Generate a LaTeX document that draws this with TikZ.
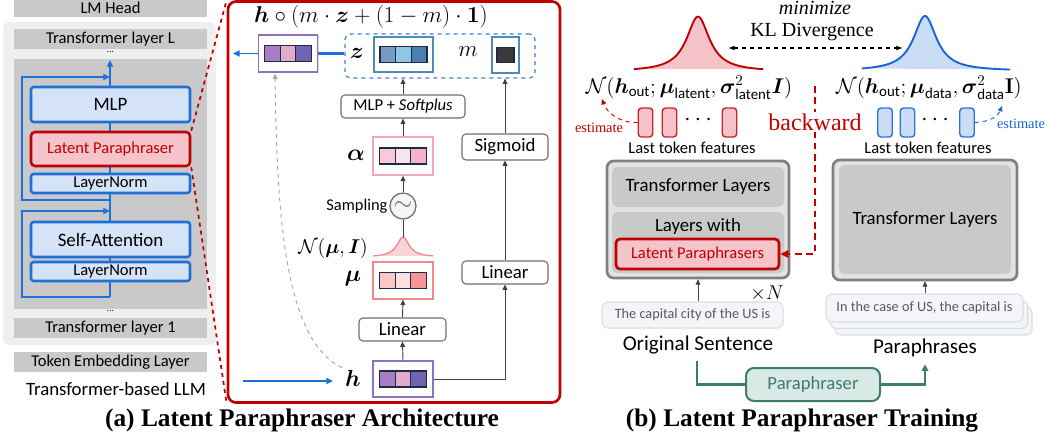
\RequirePackage{fix-cm}
\documentclass[tikz,border=0pt]{standalone}
\usepackage{amsmath}
\usepackage[no-math]{fontspec}
\setmainfont{Liberation Serif}
\newfontfamily\calib{Carlito}
\usetikzlibrary{arrows.meta,shadows,calc}
\newcommand\fs[1]{\fontsize{#1}{#1}\selectfont}
\definecolor{barg}{HTML}{C9C9C9}
\definecolor{outerbg}{HTML}{EFEFEF}
\definecolor{tblue}{HTML}{1F6FD8}
\definecolor{tbluef}{HTML}{D4E3F7}
\definecolor{tred}{HTML}{C00000}
\definecolor{tpink}{HTML}{F5C3CA}
\definecolor{midgray}{HTML}{6E6E6E}
\definecolor{dashblue}{HTML}{4A80D0}
\definecolor{zborder}{HTML}{4A8DB5}
\definecolor{navy}{HTML}{1F2A44}
\definecolor{hcA}{HTML}{A87EC2}
\definecolor{hcB}{HTML}{E2AACB}
\definecolor{hcC}{HTML}{7162B3}
\definecolor{hbord}{HTML}{8A72C4}
\definecolor{zcA}{HTML}{749CC6}
\definecolor{zcB}{HTML}{8EC6E6}
\definecolor{zcC}{HTML}{4A80B0}
\definecolor{apink}{HTML}{F0A8C0}
\definecolor{acA}{HTML}{F9C9DA}
\definecolor{acB}{HTML}{F9E3EC}
\definecolor{acC}{HTML}{F2B3CB}
\definecolor{mpink}{HTML}{F08A8A}
\definecolor{mcA}{HTML}{F9C8C8}
\definecolor{mcB}{HTML}{FCE0E0}
\definecolor{mcC}{HTML}{F79494}
\definecolor{darkc}{HTML}{3A3A3A}
\definecolor{gpinkf}{HTML}{FBD3D7}
\definecolor{gpinkl}{HTML}{F08890}
\definecolor{rgf}{HTML}{F5C2CA}
\definecolor{bgf}{HTML}{CADDF5}
\definecolor{bgl}{HTML}{1565D8}
\definecolor{tfout}{HTML}{E3E3E3}
\definecolor{tfbord}{HTML}{808080}
\definecolor{sentf}{HTML}{F3F5F8}
\definecolor{sentd}{HTML}{D9DDE3}
\definecolor{grn}{HTML}{3E7C6E}
\definecolor{grnf}{HTML}{D9E9E5}
\newcommand\vecbx[7]{%
  \node[vbx,draw=#3,sz=#4] (#1) at #2 {};
  \node[cell,fill=#5] (#1a) at ($(#1)+(-15.7,0)$) {};
  \node[cell,fill=#6] (#1b) at (#1) {};
  \node[cell,fill=#7] (#1c) at ($(#1)+(15.7,0)$) {};
}
\begin{document}
\begin{tikzpicture}[x=0.75pt,y=-0.75pt,font=\calib,
  sz/.style 2 args={minimum width={#1*0.75pt},minimum height={#2*0.75pt},inner sep=0pt},
  bar/.style={fill=barg,font=\calib\fs{12.4}},
  lbox/.style={draw=tblue,fill=tbluef,line width=1.9pt,rounded corners=2pt},
  lpbox/.style={draw=tred,fill=tpink,line width=1.9pt,rounded corners=3pt,text=tred},
  wbox/.style={draw=midgray,fill=white,line width=0.8pt,rounded corners=3pt,font=\calib\fs{14.1}},
  vbx/.style={fill=white,line width=1pt,drop shadow={shadow xshift=1pt,shadow yshift=-1pt,opacity=.3}},
  cell/.style={sz={15.7}{16},draw=navy,line width=0.9pt},
  ar/.style={draw=black!75,line width=0.7pt,-{Triangle[length=4pt,width=3.6pt]}},
  ln/.style={draw=black!75,line width=0.7pt},
  bl/.style={draw=tblue,line width=1.4pt},
  blar/.style={bl,-{Triangle[length=5pt,width=4.5pt]}},
  feat/.style={sz={14.5}{29},rounded corners=2.5pt,line width=1.1pt},
  tfo/.style={fill=tfout,draw=tfbord,line width=2pt,rounded corners=5pt},
  tfi/.style={fill=barg,rounded corners=4pt},
  sent/.style={fill=sentf,draw=sentd,line width=0.8pt,rounded corners=4pt,text=black!65,font=\calib\fs{10.7}},
]
\useasboundingbox (0,0) rectangle (1050,440);
% ---------------- left panel
\fill[outerbg,rounded corners=5pt] (3,22) rectangle (216,345);
\node[bar,sz={193}{16.5}] (lmhead) at (110.5,8.25) {LM Head};
\node[bar,sz={193}{19.5}] (tlL) at (110.5,38.75) {Transformer layer L};
\node[font=\calib\fs{7},inner sep=0pt] (dotsA) at (110.5,52) {...};
\fill[barg] (14,59) rectangle (207,309);
\node[font=\calib\fs{7},inner sep=0pt] (dotsB) at (110.5,311) {...};
\node[bar,sz={193}{20}] (tl1) at (110.5,328) {Transformer layer 1};
\node[bar,sz={193}{19.5}] (emb) at (110.5,361.75) {Token Embedding Layer};
\node[font=\calib\fs{14.1}] (llm) at (116,389) {Transformer-based LLM};
\coordinate (mainbot) at (110,297);
\coordinate (maintop) at (110,60);
\draw[blar] (mainbot) -- (maintop);
\coordinate (ra1) at (110,200); \coordinate (ra2) at (22,200);
\coordinate (ra3) at (22,77); \coordinate (ra4) at (110,77);
\draw[blar] (ra1) -- (ra2) -- (ra3) -- (ra4);
\coordinate (rb1) at (110,297); \coordinate (rb2) at (22,297);
\coordinate (rb3) at (22,211); \coordinate (rb4) at (110,211);
\draw[blar] (rb1) -- (rb2) -- (rb3) -- (rb4);
\node[lbox,sz={159}{35},font=\calib\fs{14.2}] (mlp) at (110.5,104.5) {MLP};
\node[lpbox,sz={159}{34},font=\calib\fs{12.4}] (lp) at (110.5,149) {Latent Paraphraser};
\node[lbox,sz={159}{19},font=\calib\fs{12.4}] (ln1) at (110.5,183.5) {LayerNorm};
\node[lbox,sz={159}{35},font=\calib\fs{14.2}] (sa) at (110.5,239.5) {Self-Attention};
\node[lbox,sz={159}{19},font=\calib\fs{12.4}] (ln2) at (110.5,271.5) {LayerNorm};
% ---------------- middle panel
\node[draw=tred,line width=2pt,rounded corners=6pt,sz={332}{401}] (arch) at (394,202) {};
\draw[tred,dashed,line width=1.3pt] (lp.north east) -- (arch.north west);
\draw[tred,dashed,line width=1.3pt] (lp.south east) -- (arch.south west);
\node[font=\fs{17.2},inner sep=0pt] (form) at (371,17) {$\boldsymbol{h}\circ(m\cdot\boldsymbol{z}+(1-m)\cdot\mathbf{1})$};
\vecbx{hout}{(288,53.5)}{hbord}{{59}{37}}{hcA}{hcB}{hcC}
\node[draw=dashblue,dashed,line width=0.9pt,rounded corners=4pt,sz={190}{44}] (zm) at (440,56) {};
\node[font=\fs{17},inner sep=0pt] (zlab) at (357,53) {$\boldsymbol{z}$};
\vecbx{zbox}{(403.5,54.5)}{zborder}{{59}{35}}{zcA}{zcB}{zcC}
\node[font=\fs{17},inner sep=0pt] (mlab) at (468,52) {$m$};
\node[vbx,draw=zborder,sz={27}{36}] (mbox) at (505.5,55) {};
\node[sz={17}{15},fill=darkc,draw=navy,line width=0.9pt] (mcell) at (mbox) {};
\node[wbox,sz={124}{23},font=\calib\fs{12.5}] (mlpsp) at (403,106.5) {MLP + \textit{Softplus}};
\vecbx{alpha}{(403,156)}{apink}{{60}{38}}{acA}{acB}{acC}
\node[font=\fs{17.5},inner sep=0pt] (alab) at (356,155) {$\boldsymbol{\alpha}$};
\node[wbox,sz={86}{26}] (sig) at (505,147) {Sigmoid};
\node[circle,draw=black!55,fill=black!4,line width=1pt,minimum size=19.5pt,inner sep=0pt,text=black!60,font=\fs{18}] (samp) at (403,206) {$\sim$};
\node[anchor=east,font=\calib\fs{12.3},inner sep=1pt] (samplab) at (389,206) {Sampling};
\fill[gpinkf] plot[domain=-30:30,samples=80] ({403+\x},{256-20/(1+(\x/7.5)^2)+1.1}) -- cycle;
\draw[gpinkl,line width=1pt] plot[domain=-30:30,samples=80] ({403+\x},{256-20/(1+(\x/7.5)^2)+1.1});
\coordinate (gpeak) at (403,237);
\node[font=\fs{15},inner sep=0pt] (nlab) at (333,248) {$\mathcal{N}(\boldsymbol{\mu},\boldsymbol{I})$};
\vecbx{mu}{(403,280.5)}{mpink}{{60}{37}}{mcA}{mcB}{mcC}
\node[font=\fs{17.5},inner sep=0pt] (mulab) at (353,279) {$\boldsymbol{\mu}$};
\node[wbox,sz={87}{23}] (linm) at (402.5,329.5) {Linear};
\vecbx{hbox}{(403,379)}{hbord}{{60}{36}}{hcA}{hcB}{hcC}
\node[font=\fs{17.5},inner sep=0pt] (hlab) at (353,378) {$\boldsymbol{h}$};
\node[wbox,sz={86}{23}] (linr) at (505,272.5) {Linear};
\coordinate (hin) at (243,381);
\coordinate (hinend) at (333,381);
\draw[blar] (hin) -- (hinend);
\coordinate (outarr) at (233,53.5);
\draw[blar] (hout.west) -- (outarr);
\draw[bl,line width=2pt] (hout.east) -- (hout.east -| zm.west);
\draw[ar] (hbox.north) -- (linm.south);
\draw[ar] (linm.north) -- (mu.south);
\draw[ln] (gpeak) -- (samp.south);
\draw[ar] (samp.north) -- (alpha.south);
\draw[ar] (alpha.north) -- (mlpsp.south);
\draw[ar] (mlpsp.north) -- (mlpsp.north |- zm.south);
\draw[ar] (hbox.east) -| (linr.south);
\draw[ar] (linr.north) -- (sig.south);
\draw[ar] (sig.north) -- (sig.north |- zm.south);
\draw[black!35,dashed,line width=0.7pt,-{Triangle[length=4pt,width=3.6pt]}] ($(hlab.north west)+(-3,-2)$) .. controls (285,340) and (277,220) .. ($(hout.south)+(-13,1)$);
% ---------------- right panel
\node[font=\itshape\fs{15},inner sep=0pt] (minim) at (815,8) {minimize};
\node[font=\fs{15},inner sep=0pt] (kl) at (812,32) {KL Divergence};
\fill[rgf] plot[domain=-64:65,samples=120] ({698+\x},{69-55/(1+(\x/14)^2)+2.6}) -- cycle;
\draw[tred,line width=1.4pt] plot[domain=-64:65,samples=120] ({698+\x},{69-55/(1+(\x/14)^2)+2.6});
\coordinate (rpk) at (728,48);
\fill[bgf] plot[domain=-63:85,samples=120] ({925+\x},{69-55/(1+(\x/14)^2)+2}) -- cycle;
\draw[bgl,line width=1.4pt] plot[domain=-63:85,samples=120] ({925+\x},{69-55/(1+(\x/14)^2)+2});
\coordinate (bpk) at (903,48);
\draw[black,dashed,line width=1pt,{Latex[length=5pt]}-{Latex[length=5pt]}] (rpk) -- (bpk);
\node[font=\fs{16},inner sep=0pt] (nred) at (689,88) {$\mathcal{N}(\boldsymbol{h}_{\text{\calib out}};\boldsymbol{\mu}_{\text{\calib latent}},\boldsymbol{\sigma}^2_{\text{\calib latent}}\boldsymbol{I})$};
\node[font=\fs{16},inner sep=0pt] (nblue) at (929,88) {$\mathcal{N}(\boldsymbol{h}_{\text{\calib out}};\boldsymbol{\mu}_{\text{\calib data}},\boldsymbol{\sigma}^2_{\text{\calib data}}\mathbf{I})$};
\node[feat,fill=rgf,draw=tred!85] (r1) at (645.5,122.5) {};
\node[feat,fill=rgf,draw=tred!85] (r2) at (669.5,122.5) {};
\node[feat,fill=rgf,draw=tred!85] (r3) at (729.5,122.5) {};
\node[font=\fs{18},inner sep=0pt] (rdots) at (700,120) {$\cdots$};
\node[feat,fill=bgf,draw=bgl!90] (b1) at (885,122.5) {};
\node[feat,fill=bgf,draw=bgl!90] (b2) at (907.5,122.5) {};
\node[feat,fill=bgf,draw=bgl!90] (b3) at (967,122.5) {};
\node[font=\fs{18},inner sep=0pt] (bdots) at (937,120) {$\cdots$};
\node[font=\fs{10.8},text=tred,inner sep=0pt] (estr) at (599,128) {estimate};
\draw[tred,dashed,line width=0.7pt,-{Triangle[length=4pt,width=3.6pt]}] (r1.west) .. controls (620,123) and (607,113) .. (602,99);
\node[font=\fs{10.8},text=bgl,inner sep=0pt] (estb) at (1021,124) {estimate};
\coordinate (bestend) at (1002,106);
\draw[bgl,dashed,line width=0.7pt,-{Triangle[length=4pt,width=3.6pt]}] (b3.east) .. controls (990,122) and (998,116) .. (bestend);
\node[font=\calib\fs{12.4},inner sep=0pt] (ltfr) at (692,148) {Last token features};
\node[font=\calib\fs{12.4},inner sep=0pt] (ltfb) at (928,148) {Last token features};
% transformer boxes
\node[tfo,sz={182}{117}] (tleft) at (698,219.5) {};
\node[tfi,sz={172}{40},font=\calib\fs{14.1}] (tlayers) at (698,187) {Transformer Layers};
\node[tfi,sz={172}{61}] (lwith) at (698,242.5) {};
\node[font=\calib\fs{14.1},inner sep=0pt] (lwtext) at (698,226) {Layers with};
\node[lpbox,sz={163}{30},font=\calib\fs{12.4},line width=2pt] (lps) at (697.5,254) {Latent Paraphrasers};
\node[tfo,sz={184}{120}] (tright) at (925,220) {};
\node[tfi,sz={172}{109},font=\calib\fs{14.1}] (trin) at (925,219.5) {Transformer Layers};
% backward
\coordinate (bwtop) at (815,86);
\coordinate (bwcorner) at (815,254);
\draw[tred,line width=2pt,dash pattern=on 5pt off 3.5pt,-{Triangle[length=6pt,width=5.5pt]}] (bwtop) -- (bwcorner) -- (lps.east);
\node[fill=white,inner sep=1pt,font=\fs{18},text=tred] (bw) at (815,122) {backward};
% sentences
\node[sent,sz={181}{26}] (orig) at (692.5,315) {The capital city of the US is};
\draw[ar] (orig.north -| tleft.south) -- (tleft.south);
\node[font=\fs{15},inner sep=0pt] (timesn) at (767,293) {$\times N$};
\node[font=\calib\fs{15.8},inner sep=0pt] (origlab) at (698,345) {Original Sentence};
\node[sent,sz={197}{28}] (p3) at (933.5,321) {};
\node[sent,sz={197}{28}] (p2) at (929,314.5) {};
\node[sent,sz={197}{28}] (para) at (924.5,308) {In the case of US, the capital is};
\draw[ar] (para.north -| tright.south) -- (tright.south);
\node[font=\calib\fs{15.8},inner sep=0pt] (paralab) at (925,348) {Paraphrases};
\node[draw=grn,fill=grnf,line width=1.5pt,rounded corners=6pt,sz={134}{33},text=grn,font=\calib\fs{14}] (pphr) at (813,384.5) {Paraphraser};
\draw[grn,line width=1.8pt] ($(origlab.south)+(-1,7)$) |- (pphr.west);
\draw[grn,line width=1.8pt,-{Triangle[length=5pt,width=5pt]}] (pphr.east) -| ($(paralab.south)+(0,7)$);
% captions
\node[font=\bfseries\fs{19}] (capa) at (302,420) {(a) Latent Paraphraser Architecture};
\node[font=\bfseries\fs{19}] (capb) at (802,420) {(b) Latent Paraphraser Training};
\end{tikzpicture}
\end{document}
